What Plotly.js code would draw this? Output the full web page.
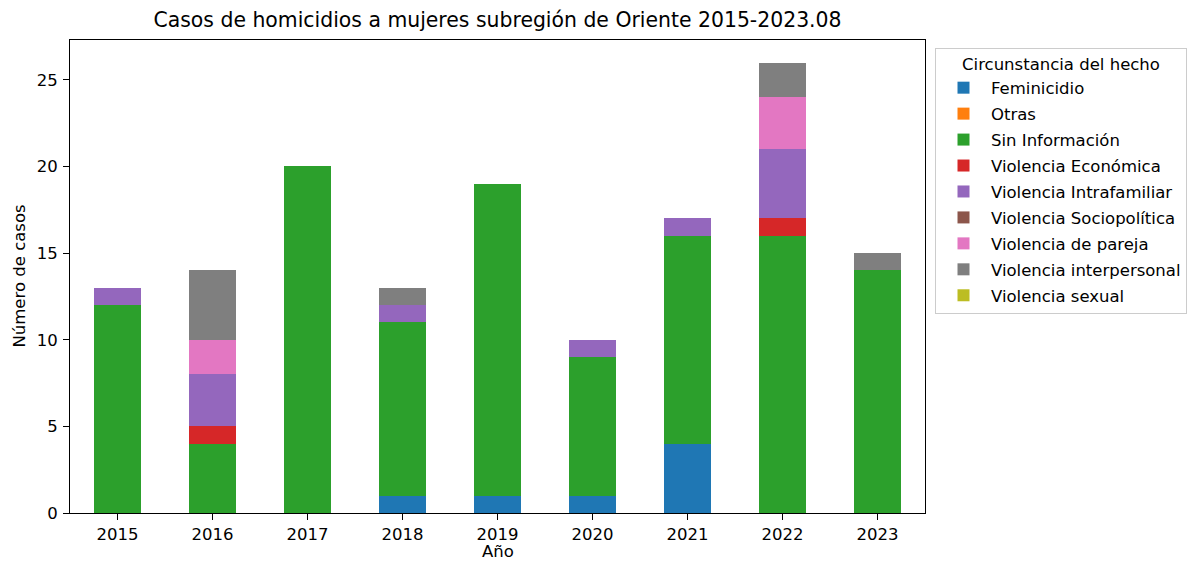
<!DOCTYPE html>
<html>
<head>
<meta charset="utf-8">
<script src="https://cdn.plot.ly/plotly-3.0.1.min.js"></script>
<style>html,body{margin:0;padding:0;background:#fff;}#chart{width:1188px;height:562px;}</style>
</head>
<body>
<div id="chart"></div>
<script>
const years = ['2015','2016','2017','2018','2019','2020','2021','2022','2023'];
const seriesNames = ['Feminicidio','Otras','Sin Información','Violencia Económica','Violencia Intrafamiliar','Violencia Sociopolítica','Violencia de pareja','Violencia interpersonal','Violencia sexual'];
const feminicidio      = [0,0,0,1,1,1,4,0,0];
const otras            = [0,0,0,0,0,0,0,0,0];
const sinInformacion   = [12,4,20,10,18,8,12,16,14];
const vEconomica       = [0,1,0,0,0,0,0,1,0];
const vIntrafamiliar   = [1,3,0,1,0,1,1,4,0];
const vSociopolitica   = [0,0,0,0,0,0,0,0,0];
const vPareja          = [0,2,0,0,0,0,0,3,0];
const vInterpersonal   = [0,4,0,1,0,0,0,2,1];
const vSexual          = [0,0,0,0,0,0,0,0,0];
const seriesValues = [feminicidio, otras, sinInformacion, vEconomica, vIntrafamiliar, vSociopolitica, vPareja, vInterpersonal, vSexual];
const colors = ['#1f77b4','#ff7f0e','#2ca02c','#d62728','#9467bd','#8c564b','#e377c2','#7f7f7f','#bcbd22'];

const FONT = 'DejaVu Sans, Liberation Sans, sans-serif';
const traces = seriesNames.map((n,i)=>({
  type:'bar', name:n, x:years, y:seriesValues[i], legendgroup:'g'+i,
  marker:{color:colors[i], line:{width:0}},
  hoverinfo:'name+y'
}));

const layout = {
  width:1188, height:562,
  margin:{l:70, r:263, t:40, b:49, autoexpand:false},
  paper_bgcolor:'#fff', plot_bgcolor:'#fff',
  barmode:'stack', bargap:0.5,
  font:{family:FONT, size:16.5, color:'#000'},
  title:{text:'Casos de homicidios a mujeres subregión de Oriente 2015-2023.08', font:{size:20.4, color:'#000'}, x:0.4188, xanchor:'center', y:1-20/562, yanchor:'middle', yref:'container'},
  xaxis:{type:'category', range:[-0.5,8.5], showline:true, linecolor:'#000', linewidth:1, mirror:true,
    ticks:'outside', ticklen:6, tickcolor:'#000', tickwidth:1, showgrid:false, zeroline:false,
    automargin:false, ticklabelstandoff:0, tickfont:{size:16.5}},
  yaxis:{range:[0,27.3], tickvals:[0,5,10,15,20,25], showline:true, linecolor:'#000', linewidth:1, mirror:true,
    ticks:'outside', ticklen:6, tickcolor:'#000', tickwidth:1, showgrid:false, zeroline:false,
    automargin:false, ticklabelstandoff:2, tickfont:{size:16.5}},
  annotations:[
    {text:'Año', xref:'paper', yref:'paper', x:0.5, y:(513-551)/473, xanchor:'center', yanchor:'middle', showarrow:false, font:{size:16.5}},
    {text:'Número de casos', xref:'paper', yref:'paper', x:(19-70)/855.5, y:0.5, xanchor:'center', yanchor:'middle', textangle:-90, showarrow:false, font:{size:16.5}}
  ],
  legend:{xref:'container', yref:'container', x:935/1188, xanchor:'left', y:1-48/562, yanchor:'top', traceorder:'grouped', tracegroupgap:1.5,
    itemwidth:45,
    bordercolor:'#cccccc', borderwidth:1, bgcolor:'#fff',
    title:{text:'Circunstancia del hecho', side:'top center', font:{size:16.5}},
    font:{size:16.5}}
};
Plotly.newPlot('chart', traces, layout, {displayModeBar:false, staticPlot:true});
</script>
</body>
</html>
